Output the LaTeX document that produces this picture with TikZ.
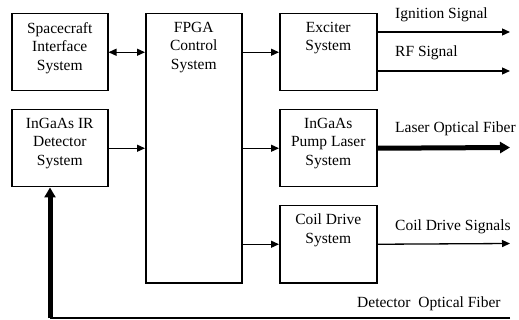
\documentclass[tikz,border=0pt]{standalone}
\usepackage{fontspec}
\setmainfont{Liberation Serif}
\usetikzlibrary{arrows.meta}
\begin{document}
\begin{tikzpicture}[x=1pt,y=-1pt,
  txt/.style={font=\fontsize{15.5}{18.5}\selectfont},
  lbl/.style={txt, anchor=north, yshift=-9pt, inner sep=0pt, align=center},
  blk/.style={draw, line width=1.5pt, minimum width=96pt, minimum height=77pt, inner sep=0pt, anchor=north west, label={[lbl]north:#1}},
  arr/.style={line width=1.3pt, -{Triangle[length=8pt,width=7pt]}},
  biarr/.style={line width=1.3pt, {Triangle[length=8pt,width=7pt]}-{Triangle[length=8pt,width=7pt]}},
  fat/.style={line width=5pt, -{Triangle[length=10pt,width=11pt]}},
  outl/.style={txt, anchor=base west, inner sep=0pt}]
\useasboundingbox (0,0) rectangle (519,320);
\node[blk={Spacecraft\\Interface\\System}] (sc) at (11,13) {};
\node[blk={InGaAs IR\\Detector\\System}] (det) at (11,109) {};
\node[blk={FPGA\\Control\\System}, minimum height=269pt] (fpga) at (145,13) {};
\node[blk={Exciter\\System}, minimum width=97pt] (exc) at (279,13) {};
\node[blk={InGaAs\\Pump Laser\\System}, minimum width=97pt] (pump) at (279,109) {};
\node[blk={Coil Drive\\System}, minimum width=97pt] (coil) at (279,205) {};
% internal connectors
\draw[biarr] (sc.east) -- (sc.east -| fpga.west);
\draw[arr] (det.east) -- (det.east -| fpga.west);
\draw[arr] (fpga.east |- exc.west) -- (exc.west);
\draw[arr] (fpga.east |- pump.west) -- (pump.west);
\draw[arr] (fpga.east |- coil.west) -- (coil.west);
% outputs
\coordinate (ig) at (510,32);
\coordinate (rf) at (510,71);
\coordinate (lf) at (510,147.5);
\coordinate (cd) at (510,243.5);
\draw[arr] (exc.east |- ig) -- (ig);
\draw[arr] (exc.east |- rf) -- (rf);
\draw[fat] (pump.east) -- (lf);
\draw[arr] (coil.east) -- (cd);
\node[outl] (tig) at (395,19) {Ignition Signal};
\node[outl] (trf) at (395,57) {RF Signal};
\node[outl] (tlf) at (395,133) {Laser Optical Fiber};
\node[outl] (tcd) at (395,231) {Coil Drive Signals};
% detector fiber
\coordinate (fe) at (510,318);
\coordinate (fc) at (50,318);
\draw[line width=2pt] (fe) -- (fc);
\draw[fat] (fc) -- (fc |- det.south);
\node[outl] (tdf) at (357,307) {Detector\ \ Optical Fiber};
\end{tikzpicture}
\end{document}
